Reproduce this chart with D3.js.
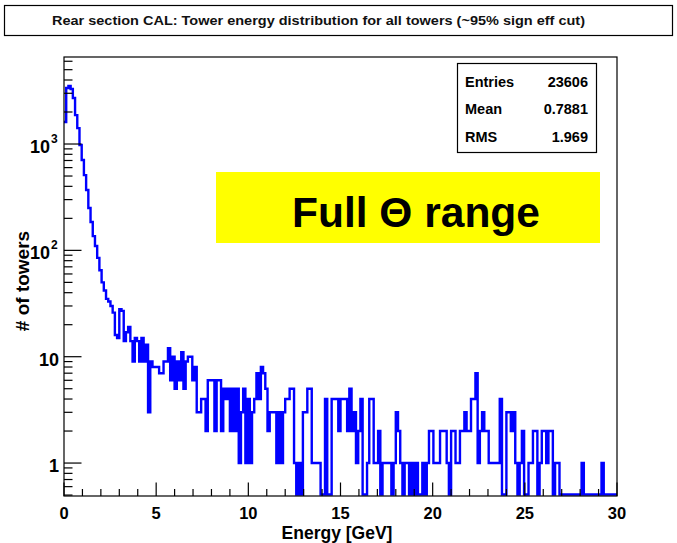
<!DOCTYPE html>
<html>
<head>
<meta charset="utf-8">
<script src="https://cdn.jsdelivr.net/npm/d3@7/dist/d3.min.js"></script>
<style>
  body { margin: 0; background: #fff; }
  text { font-family: "Liberation Sans", Arial, Helvetica, sans-serif; }
</style>
</head>
<body>
<svg id="chart" width="677" height="543"></svg>
<script>
// Tower energy histogram: 250 bins of 0.12 GeV from 0 to 30 GeV
const binWidth = 0.12;
const counts = [
  1610, 3360, 3510, 3290, 2710, 1870, 1410, 980, 707, 510,
  370, 250, 185, 136, 110, 85, 65, 50, 42, 35,
  33, 30, 26, 16, 15, 28, 27, 14, 17, 19,
  14, 9, 15, 14, 9, 15, 9, 13, 3, 9,
  8, 8, 8, 7, 7, 9, 9, 12, 6, 10,
  5, 9, 6, 11, 5, 9, 10, 10, 6, 8,
  3, 3, 4, 4, 2, 6, 6, 6, 2, 6,
  6, 2, 5, 4, 5, 2, 5, 2, 5, 1,
  3, 5, 1, 4, 1, 3, 4, 7, 4, 8,
  7, 5, 2, 3, 3, 3, 1, 3, 1, 3,
  4, 4, 5, 5, 1, 0, 1, 0, 3, 3,
  5, 5, 1, 1, 1, 1, 0, 0, 4, 0,
  0, 4, 4, 4, 2, 4, 4, 4, 2, 5,
  2, 3, 1, 2, 4, 0, 0, 1, 4, 4,
  1, 1, 2, 0, 1, 1, 1, 1, 0, 1,
  3, 2, 1, 0, 1, 1, 0, 1, 0, 1,
  0, 0, 1, 0, 1, 2, 2, 1, 1, 1,
  2, 2, 2, 1, 0, 2, 2, 1, 1, 2,
  2, 3, 2, 2, 4, 4, 7, 1, 2, 3,
  2, 2, 1, 1, 1, 1, 1, 4, 0, 0,
  3, 3, 2, 3, 1, 0, 1, 2, 0, 0,
  1, 1, 2, 2, 0, 1, 2, 2, 1, 2,
  2, 0, 1, 1, 0, 0, 0, 0, 0, 0,
  0, 0, 0, 0, 1, 0, 0, 0, 0, 0,
  0, 0, 0, 1, 0, 0, 0, 0, 0, 0
];

const xTickValues = [0, 5, 10, 15, 20, 25, 30];
const yDecades = [1, 10, 100, 1000];
const yDecadeLabels = [["1", ""], ["10", ""], ["10", "2"], ["10", "3"]];
const statsLabels = ["Entries", "Mean", "RMS"];
const statsValues = ["23606", "0.7881", "1.969"];
const titleText = "Rear section CAL: Tower energy distribution for all towers (~95% sign eff cut)";
const xTitle = "Energy [GeV]";
const yTitle = "# of towers";
const bannerText = "Full \u0398 range";

const svg = d3.select("#chart");
const frame = { left: 64, right: 617, top: 57, bottom: 496 };

const x = d3.scaleLinear().domain([0, 30]).range([frame.left, frame.right]);
const y = d3.scaleLog().domain([0.49, 6580]).range([frame.bottom, frame.top]).clamp(true);

// title box
svg.append("rect")
  .attr("x", 4.5).attr("y", 5.5).attr("width", 668).attr("height", 30)
  .attr("fill", "#fff").attr("stroke", "#000").attr("stroke-width", 1.2);
svg.append("text")
  .attr("x", 52).attr("y", 25)
  .attr("font-size", 13).attr("font-weight", "bold")
  .attr("textLength", 533).attr("lengthAdjust", "spacingAndGlyphs")
  .attr("fill", "#111")
  .text(titleText);

// histogram step line
const edges = d3.range(counts.length + 1).map(i => i * binWidth);
const bottomY = frame.bottom - 1.5;
const yv = v => (v > 0 ? y(v) : bottomY);
let pts = [];
counts.forEach((c, i) => {
  pts.push([x(edges[i]), yv(c)]);
  pts.push([x(edges[i + 1]), yv(c)]);
});
svg.append("path")
  .attr("d", d3.line()(pts))
  .attr("fill", "none")
  .attr("stroke", "#0000ff")
  .attr("stroke-width", 2.4)
  .attr("stroke-linejoin", "miter");

// frame
svg.append("rect")
  .attr("x", frame.left).attr("y", frame.top)
  .attr("width", frame.right - frame.left).attr("height", frame.bottom - frame.top)
  .attr("fill", "none").attr("stroke", "#000").attr("stroke-width", 1.2);

// x axis ticks (inside, pointing up)
const xMinor = d3.range(0, 31, 1);
const gx = svg.append("g");
xMinor.forEach(v => {
  const major = v % 5 === 0;
  gx.append("line")
    .attr("x1", x(v)).attr("x2", x(v))
    .attr("y1", frame.bottom).attr("y2", frame.bottom - (major ? 13.5 : 7))
    .attr("stroke", "#000").attr("stroke-width", 1.2);
});
xTickValues.forEach(v => {
  gx.append("text")
    .attr("x", x(v)).attr("y", 519)
    .attr("text-anchor", "middle")
    .attr("font-size", 16.5).attr("font-weight", "bold")
    .text(v);
});

// y axis ticks (log, inside, pointing right)
const gy = svg.append("g");
const yMinor = [];
[0.1, 1, 10, 100, 1000].forEach(d => {
  for (let k = 1; k <= 9; k++) {
    const v = d * k;
    if (v >= 0.49 && v <= 6580) yMinor.push(v);
  }
});
yMinor.forEach(v => {
  const major = yDecades.includes(v);
  gy.append("line")
    .attr("x1", frame.left).attr("x2", frame.left + (major ? 17.5 : 8.5))
    .attr("y1", y(v)).attr("y2", y(v))
    .attr("stroke", "#000").attr("stroke-width", 1.2);
});
yDecades.forEach((v, i) => {
  const [base, sup] = yDecadeLabels[i];
  gy.append("text")
    .attr("x", sup ? 50 : 59).attr("y", y(v) + 9)
    .attr("text-anchor", "end")
    .attr("font-size", 18).attr("font-weight", "bold")
    .text(base);
  if (sup) {
    gy.append("text")
      .attr("x", 51).attr("y", y(v) - 1)
      .attr("font-size", 12).attr("font-weight", "bold")
      .text(sup);
  }
});

// axis titles
svg.append("text")
  .attr("x", 337).attr("y", 538.5)
  .attr("text-anchor", "middle")
  .attr("font-size", 17.5).attr("font-weight", "bold")
  .text(xTitle);
svg.append("text")
  .attr("transform", "translate(29,281) rotate(-90)")
  .attr("text-anchor", "middle")
  .attr("font-size", 19).attr("font-weight", "bold")
  .text(yTitle);

// statistics box
svg.append("rect")
  .attr("x", 457.5).attr("y", 63.5).attr("width", 139).attr("height", 89)
  .attr("fill", "#fff").attr("stroke", "#000").attr("stroke-width", 1.2);
statsLabels.forEach((lab, i) => {
  const yy = 86.5 + i * 27.5;
  svg.append("text").attr("x", 465).attr("y", yy)
    .attr("font-size", 14.5).attr("font-weight", "bold").text(lab);
  svg.append("text").attr("x", 588).attr("y", yy)
    .attr("text-anchor", "end")
    .attr("font-size", 14.5).attr("font-weight", "bold").text(statsValues[i]);
});

// banner
svg.append("rect")
  .attr("x", 216).attr("y", 172).attr("width", 384).attr("height", 71)
  .attr("fill", "#ffff00");
svg.append("text")
  .attr("x", 416).attr("y", 226.5)
  .attr("text-anchor", "middle")
  .attr("font-size", 42.5).attr("font-weight", "bold")
  .text(bannerText);
</script>
</body>
</html>
